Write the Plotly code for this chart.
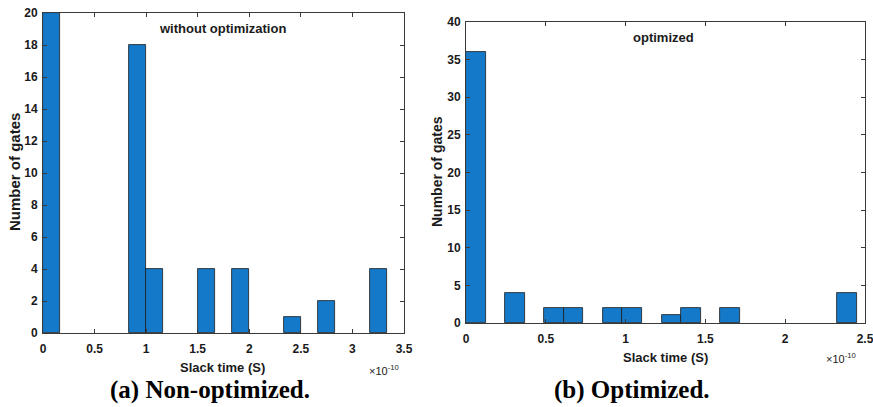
import plotly.graph_objects as go

W, H = 873, 407

# Data (slack time in units of 1e-10 s)
bin_w_a = 1/6
bins_a = [0, 5, 6, 9, 11, 14, 16, 19]            # bin indices
counts_a = [20, 18, 4, 4, 4, 1, 2, 4]

bin_w_b = 0.1225
bins_b = [0, 2, 4, 5, 7, 8, 10, 11, 13, 19]
counts_b = [36, 4, 2, 2, 2, 2, 1, 2, 2, 4]

xticks_a = [0, 0.5, 1, 1.5, 2, 2.5, 3, 3.5]
yticks_a = [0, 2, 4, 6, 8, 10, 12, 14, 16, 18, 20]
xticks_b = [0, 0.5, 1, 1.5, 2, 2.5]
yticks_b = [0, 5, 10, 15, 20, 25, 30, 35, 40]

bar_color = "#1479c9"
ax_color = "#3a3a3a"

fig = go.Figure()
fig.add_trace(go.Bar(x=[b * bin_w_a for b in bins_a], y=counts_a, width=bin_w_a, offset=0,
                     marker=dict(color=bar_color, line=dict(color="#1a1a1a", width=0.8)),
                     xaxis="x", yaxis="y", showlegend=False))
fig.add_trace(go.Bar(x=[b * bin_w_b for b in bins_b], y=counts_b, width=bin_w_b, offset=0,
                     marker=dict(color=bar_color, line=dict(color="#1a1a1a", width=0.8)),
                     xaxis="x2", yaxis="y2", showlegend=False))

def px(x):
    return x / W

def py(y):
    return 1 - y / H

def bt(vals):
    return [f"<b>{v:g}</b>" for v in vals]

tickfont = dict(family="Liberation Sans, Arial", size=12, color="#1a1a1a")
axcommon = dict(showgrid=False, zeroline=False, showline=True, linecolor=ax_color, linewidth=1,
                mirror="ticks", ticks="inside", ticklen=4, tickcolor=ax_color, tickfont=tickfont,
                automargin=False, ticklabeloverflow="allow")

fig.update_layout(
    width=W, height=H, margin=dict(l=0, r=0, t=0, b=0, pad=0, autoexpand=False),
    paper_bgcolor="white", plot_bgcolor="white", bargap=0,
    xaxis=dict(domain=[px(43), px(404)], range=[0, 3.5], tickvals=xticks_a,
               ticktext=bt(xticks_a), anchor="y", ticklabelstandoff=5, **axcommon),
    yaxis=dict(domain=[py(333), py(13)], range=[0, 20], tickvals=yticks_a, ticktext=bt(yticks_a),
               anchor="x", ticklabelstandoff=2, **axcommon),
    xaxis2=dict(domain=[px(466), px(865)], range=[0, 2.5], tickvals=xticks_b,
                ticktext=bt(xticks_b), anchor="y2", ticklabelstandoff=5, **axcommon),
    yaxis2=dict(domain=[py(323), py(22)], range=[0, 40], tickvals=yticks_b, ticktext=bt(yticks_b),
                anchor="x2", ticklabelstandoff=2, **axcommon),
)

def ann(text, x, y, font, angle=0, xanchor="center", yanchor="middle"):
    fig.add_annotation(text=text, x=px(x), y=py(y), xref="paper", yref="paper", showarrow=False,
                       font=font, textangle=angle, xanchor=xanchor, yanchor=yanchor)

lab = dict(family="Liberation Sans, Arial", size=13, color="#1a1a1a")
ylab = dict(family="Liberation Sans, Arial", size=15, color="#1a1a1a")
ylab2 = dict(family="Liberation Sans, Arial", size=14, color="#1a1a1a")
ann("<b>without optimization</b>", 223, 29, lab)
ann("<b>optimized</b>", 663, 37, lab)
ann("<b>Slack time (S)</b>", 223, 367, lab)
ann("<b>Slack time (S)</b>", 665, 357, lab)
ann("<b>Number of gates</b>", 15, 172, ylab, angle=-90)
ann("<b>Number of gates</b>", 437, 172, ylab2, angle=-90)
small = dict(family="Liberation Sans, Arial", size=11, color="#1a1a1a")
ann("×10<sup>-10</sup>", 367, 370, small, xanchor="left")
ann("×10<sup>-10</sup>", 824, 358, small, xanchor="left")
cap = dict(family="Liberation Serif, Times New Roman", size=25, color="black")
ann("<b>(a) Non-optimized.</b>", 210, 390, cap)
ann("<b>(b) Optimized.</b>", 632, 390, cap)

fig.write_html("out.html")
